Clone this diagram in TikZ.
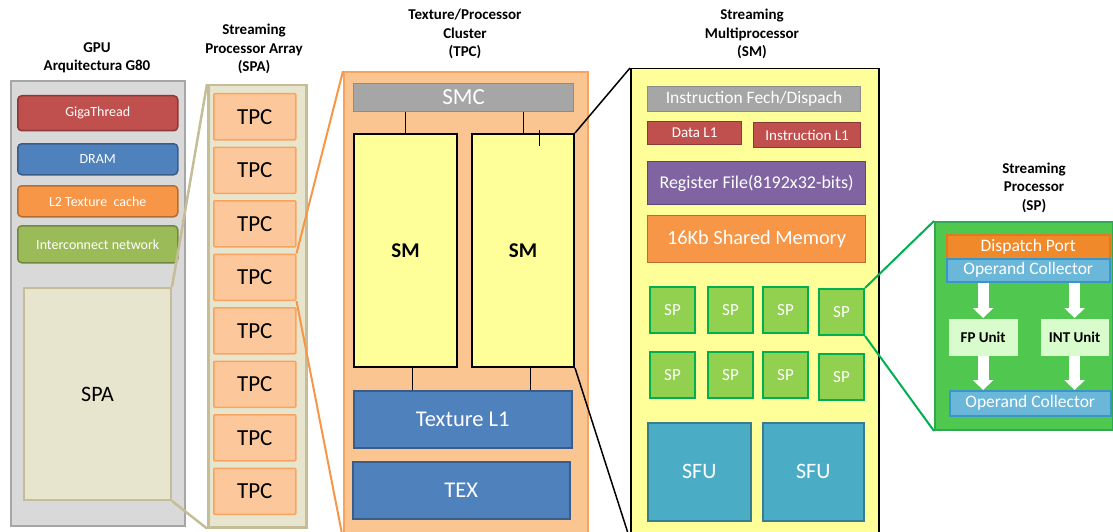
\documentclass[tikz,border=0pt]{standalone}
\usepackage{fontspec}
\setmainfont{Carlito}
\usetikzlibrary{arrows.meta}
\definecolor{gpufill}{HTML}{D9D9D9}
\definecolor{gpuedge}{HTML}{A6A6A6}
\definecolor{cred}{HTML}{C0504D}
\definecolor{credE}{HTML}{8C3836}
\definecolor{cblue}{HTML}{4F81BD}
\definecolor{cblueE}{HTML}{385D8A}
\definecolor{corange}{HTML}{F79646}
\definecolor{corangeE}{HTML}{B66D31}
\definecolor{cgreen}{HTML}{9BBB59}
\definecolor{cgreenE}{HTML}{71893F}
\definecolor{olivefill}{HTML}{E7E5CD}
\definecolor{oliveedge}{HTML}{C4BD97}
\definecolor{tpcfill}{HTML}{FCC89B}
\definecolor{tpcedge}{HTML}{F9A45E}
\definecolor{panfill}{HTML}{FAC590}
\definecolor{cgray}{HTML}{A6A6A6}
\definecolor{cgrayE}{HTML}{8C8C8C}
\definecolor{cyellow}{HTML}{FFFF99}
\definecolor{cpurple}{HTML}{8064A2}
\definecolor{cpurpleE}{HTML}{5C4776}
\definecolor{spfill}{HTML}{92D050}
\definecolor{spedge}{HTML}{00B050}
\definecolor{sfufill}{HTML}{4BACC6}
\definecolor{sfuedge}{HTML}{357D91}
\definecolor{sppanfill}{HTML}{50C850}
\definecolor{sppanedge}{HTML}{2FA84F}
\definecolor{dpfill}{HTML}{F0892A}
\definecolor{dpedge}{HTML}{E07A1F}
\definecolor{ocfill}{HTML}{6BB7DA}
\definecolor{ocedge}{HTML}{3A95C8}
\definecolor{unitfill}{HTML}{D8FCCC}
\begin{document}
\begin{tikzpicture}[x=1pt,y=-1pt,
  blk/.style={draw, inner sep=0pt, anchor=north west, align=center, line width=1.2pt},
  gpubox/.style={blk, rounded corners=4pt, line width=1.5pt, text=white, font=\fontsize{14}{16}\selectfont},
  title/.style={anchor=base, align=center, font=\fontsize{15}{18.5}\selectfont\bfseries},
  tpcbox/.style={blk, fill=tpcfill, draw=tpcedge, line width=1.5pt, rounded corners=1pt, minimum width=82pt, minimum height=46pt, font=\fontsize{23}{25}\selectfont},
  smbox/.style={blk, fill=cyellow, draw=black, line width=2pt, minimum width=103pt, minimum height=233pt, font=\fontsize{21}{23}\selectfont\bfseries},
  spbox/.style={blk, fill=spfill, draw=spedge, line width=2pt, minimum width=45pt, minimum height=46pt, text=white, font=\fontsize{17}{19}\selectfont},
  sfubox/.style={blk, fill=sfufill, draw=sfuedge, line width=1.5pt, minimum height=98pt, text=white, font=\fontsize{22}{24}\selectfont},
  ocbox/.style={blk, fill=ocfill, draw=ocedge, line width=1.5pt, text=white, font=\fontsize{17.5}{19}\selectfont},
  unitbox/.style={blk, fill=unitfill, draw=none, minimum width=69pt, minimum height=37pt, font=\fontsize{15}{17}\selectfont\bfseries},
  warrow/.style={draw=white, line width=11pt, -{Triangle[width=20pt,length=10pt]}},
  oliveline/.style={draw=oliveedge, line width=2.5pt},
  orangeline/.style={draw=corange, line width=2pt},
  blackline/.style={draw=black, line width=1.5pt},
  greenline/.style={draw=spedge, line width=2pt},
  thinline/.style={draw=black, line width=0.8pt}]
\useasboundingbox (0,0) rectangle (1113,532);

% ---- titles (anchor = baseline of last line)
\node[title] (tgpu) at (97,71) {GPU\\Arquitectura G80};
\node[title] (tspa) at (254,72) {Streaming\\Processor Array\\(SPA)};
\node[title] (ttpc) at (465,57) {Texture/Processor\\Cluster\\(TPC)};
\node[title] (tsm) at (752,57) {Streaming\\Multiprocessor\\(SM)};
\node[title] (tsp) at (1034,210) {Streaming\\Processor\\(SP)};

% ---- GPU panel
\node[blk, fill=gpufill, draw=gpuedge, line width=2pt, minimum width=174pt, minimum height=445pt] (gpu) at (10,80) {};
\node[gpubox, fill=cred, draw=credE, minimum width=160pt, minimum height=35pt] (giga) at (17,95) {GigaThread};
\node[gpubox, fill=cblue, draw=cblueE, minimum width=160pt, minimum height=31pt] (dram) at (17,143) {DRAM};
\node[gpubox, fill=corange, draw=corangeE, minimum width=160pt, minimum height=31pt] (l2) at (17,185) {L2 Texture\ \ cache};
\node[gpubox, fill=cgreen, draw=cgreenE, minimum width=160pt, minimum height=37pt] (inter) at (17,225) {Interconnect network};
\node[blk, fill=olivefill, draw=oliveedge, line width=2pt, minimum width=147pt, minimum height=212pt, font=\fontsize{22}{24}\selectfont] (spa) at (23,287) {SPA};

% ---- SPA column
\node[blk, fill=olivefill, draw=oliveedge, line width=2.5pt, minimum width=98pt, minimum height=442pt] (spacol) at (207,84) {};
\foreach \i in {1,...,8} {
  \node[tpcbox] (tpc\i) at (213,{93+53.5*(\i-1)}) {TPC};
}
\draw[oliveline] (spa.north east) -- (spacol.north west);
\draw[oliveline] (spa.south east) -- (spacol.south west);

% ---- TPC panel
\node[blk, fill=panfill, draw=tpcedge, line width=2pt, minimum width=244pt, minimum height=466pt] (tpcpanel) at (343,71) {};
\draw[orangeline] (tpc4.north east) -- (tpcpanel.north west);
\draw[orangeline] (tpc4.south east) -- (tpcpanel.south west);
\node[blk, fill=cgray, draw=cgrayE, line width=1.2pt, minimum width=220pt, minimum height=28pt, text=white, font=\fontsize{23}{25}\selectfont] (smc) at (353,83) {SMC};
\node[smbox] (smL) at (353,133) {SM};
\node[smbox, minimum width=102pt] (smR) at (471,133) {SM};
\node[blk, fill=cblue, draw=cblueE, line width=1.5pt, minimum width=218pt, minimum height=57pt, text=white, font=\fontsize{22.5}{24}\selectfont] (texl1) at (353,390) {Texture L1};
\node[blk, fill=cblue, draw=cblueE, line width=1.5pt, minimum width=217pt, minimum height=57pt, text=white, font=\fontsize{22.5}{24}\selectfont] (tex) at (352,461) {TEX};
\draw[thinline] (smL.north) -- (smL.north |- smc.south);
\draw[thinline] (smR.north) -- (smR.north |- smc.south);
\draw[thinline] ([xshift=16pt,yshift=3pt]smR.north) -- ++(0,16);
\draw[thinline] ([xshift=7pt]smL.south) -- ([xshift=7pt]smL.south |- texl1.north);
\draw[thinline] ([xshift=7pt]smR.south) -- ([xshift=7pt]smR.south |- texl1.north);

% ---- SM panel
\node[blk, fill=cyellow, draw=black, line width=1.5pt, minimum width=248pt, minimum height=470pt] (smpanel) at (630,68) {};
\draw[blackline] (smR.north east) -- (smpanel.north west);
\draw[blackline] (smR.south east) -- (smpanel.south west);
\node[blk, fill=cgray, draw=cgrayE, minimum width=213pt, minimum height=25pt, text=white, font=\fontsize{17.5}{19}\selectfont] (ifd) at (647,86) {Instruction Fech/Dispach};
\node[blk, fill=cred, draw=credE, minimum width=94pt, minimum height=23pt, text=white, font=\fontsize{15}{17}\selectfont] (dl1) at (647,121) {Data L1};
\node[blk, fill=cred, draw=credE, minimum width=107pt, minimum height=25pt, text=white, font=\fontsize{15}{17}\selectfont] (il1) at (753,122) {Instruction L1};
\node[blk, fill=cpurple, draw=cpurpleE, minimum width=218pt, minimum height=43pt, text=white, font=\fontsize{18}{20}\selectfont] (reg) at (647,161) {Register File(8192x32-bits)};
\node[blk, fill=corange, draw=corangeE, minimum width=218pt, minimum height=47pt, text=white, font=\fontsize{20.3}{22}\selectfont] (shm) at (647,215) {16Kb Shared Memory};
\node[spbox] (sp1) at (649,286) {SP};
\node[spbox] (sp2) at (707,286) {SP};
\node[spbox] (sp3) at (762,286) {SP};
\node[spbox] (sp4) at (818,288) {SP};
\node[spbox] (sp5) at (649,351) {SP};
\node[spbox] (sp6) at (707,351) {SP};
\node[spbox] (sp7) at (762,351) {SP};
\node[spbox] (sp8) at (818,353) {SP};
\node[sfubox, minimum width=103pt] (sfu1) at (647,422) {SFU};
\node[sfubox, minimum width=101pt] (sfu2) at (762,422) {SFU};

% ---- SP panel
\node[blk, fill=sppanfill, draw=sppanedge, line width=2pt, minimum width=178pt, minimum height=208pt] (sppanel) at (934,221) {};
\draw[greenline] (sp4.north east) -- (sppanel.north west);
\draw[greenline] (sp4.south east) -- (sppanel.south west);
\node[blk, fill=dpfill, draw=dpedge, line width=1.5pt, minimum width=163pt, minimum height=24pt, text=white, font=\fontsize{17.5}{19}\selectfont] (dp) at (946,234) {Dispatch Port};
\node[ocbox, minimum width=163pt, minimum height=23pt] (oc1) at (946,258) {Operand Collector};
\node[unitbox] (fp) at (948,318) {FP Unit};
\node[unitbox, minimum width=68pt] (int) at (1040,318) {INT Unit};
\node[ocbox, minimum width=161pt, minimum height=25pt] (oc2) at (949,390) {Operand Collector};
\draw[warrow] (fp.north |- oc1.south) -- (fp.north);
\draw[warrow] (int.north |- oc1.south) -- (int.north);
\draw[warrow] (fp.south) -- (fp.south |- oc2.north);
\draw[warrow] (int.south) -- (int.south |- oc2.north);
\end{tikzpicture}
\end{document}
